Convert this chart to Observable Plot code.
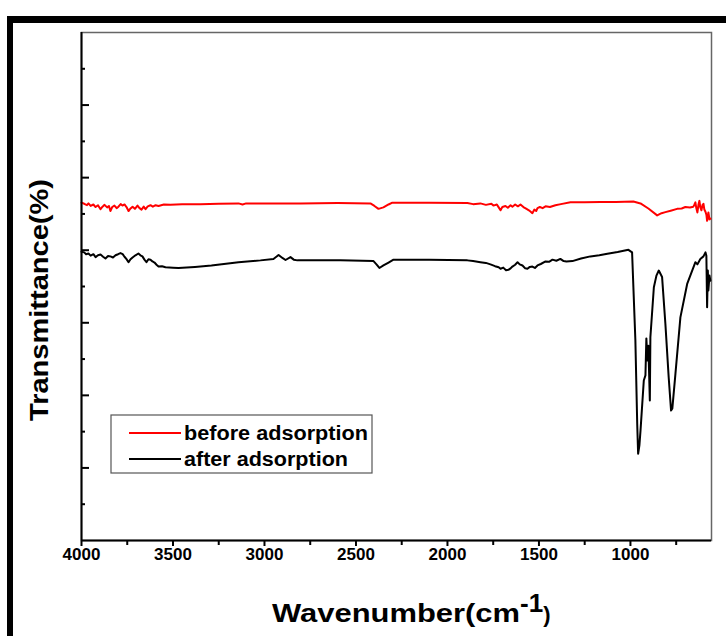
<!DOCTYPE html>
<html><head><meta charset="utf-8">
<script src="https://cdn.jsdelivr.net/npm/d3@7"></script>
<script src="https://cdn.jsdelivr.net/npm/@observablehq/plot@0.6"></script>
<style>
body{margin:0;background:#fff;}
#wrap{position:relative;width:726px;height:636px;overflow:hidden;background:#fff;}
#border{position:absolute;left:7px;top:16px;width:800px;height:800px;border-top:7px solid #000;border-left:6px solid #000;pointer-events:none;}
#wrap svg{position:absolute;left:0;top:0;}
</style></head><body>
<div id="wrap"><div id="border"></div></div>
<script>
const beforeWn = [4000,3985,3970,3962,3950,3935,3923,3910,3896,3885,3874,3860,3850,3842,3832,3820,3808,3798,3786,3776,3765,3754,3743,3732,3721,3708,3694,3683,3672,3660,3650,3638,3623,3610,3595,3579,3550,3514,3450,3350,3250,3142,3120,3100,2900,2803,2600,2421,2399,2377,2350,2322,2301,2100,1891,1860,1820,1790,1760,1749,1730,1720,1710,1700,1683,1670,1655,1645,1630,1615,1601,1585,1568,1555,1545,1536,1525,1515,1508,1495,1480,1464,1440,1410,1380,1328,1250,1164,1080,984,945,902,854,830,809,780,745,720,700,675,656,650,645,640,634,628,623,618,612,606,601,596,590,585,581,577,574,568,563];
const beforeT = [93.1,92.8,92.4,92.9,92.2,92.6,91.9,92.4,91.3,92.0,92.5,91.8,92.2,90.8,91.9,92.3,91.6,92.0,92.7,92.3,92.6,91.9,90.8,91.5,92.0,91.4,92.3,91.6,91.2,92.0,91.3,92.1,92.4,92.0,92.4,92.2,92.6,92.5,92.7,92.7,92.8,92.9,92.6,92.9,92.9,92.9,93.0,92.9,92.2,91.4,91.8,92.6,93.1,93.1,93.0,92.7,92.9,92.5,92.8,92.3,92.6,91.8,91.0,91.9,92.2,91.7,92.4,92.0,92.6,92.1,92.6,91.9,91.4,91.0,90.6,90.2,91.2,90.8,91.6,91.9,91.6,92.1,91.9,92.4,92.7,93.2,93.2,93.3,93.3,93.4,92.9,91.5,89.6,90.2,90.5,90.9,91.4,91.5,91.9,91.8,92.0,92.6,93.2,91.6,90.4,92.6,93.6,91.8,91.0,92.5,92.8,91.2,90.6,89.8,88.1,89.2,90.4,88.5,88.7];
const afterWn = [4000,3985,3975,3962,3950,3935,3923,3910,3896,3882,3869,3855,3842,3828,3814,3800,3787,3775,3765,3755,3743,3732,3721,3705,3689,3678,3667,3656,3645,3634,3623,3612,3601,3590,3579,3560,3541,3500,3470,3380,3290,3142,3022,2951,2923,2900,2885,2858,2840,2820,2700,2585,2404,2388,2372,2350,2322,2295,2100,1891,1860,1820,1790,1765,1740,1720,1710,1695,1680,1667,1655,1645,1630,1617,1605,1590,1575,1563,1550,1536,1522,1508,1490,1464,1445,1426,1405,1383,1365,1350,1317,1270,1219,1170,1126,1070,1011,991,973,963,958,951,945,927,918,913,907,902,894,891,872,858,845,827,809,791,778,771,754,727,690,645,634,618,601,590,585,581,577,574,568,563];
const afterT = [79.6,79.4,78.9,79.1,78.5,78.9,78.1,78.6,78.8,78.2,77.7,78.4,78.3,78.0,78.6,78.9,79.2,78.9,78.2,77.6,76.7,77.5,78.0,78.6,79.1,78.6,78.3,77.4,76.7,77.5,77.4,76.9,76.6,76.0,75.5,75.6,75.3,75.2,75.1,75.4,75.8,76.7,77.2,77.6,78.7,77.8,77.3,78.1,77.4,77.2,77.2,77.2,77.0,76.1,75.1,75.8,76.6,77.4,77.4,77.2,77.0,76.7,76.5,76.1,75.6,75.3,74.9,75.2,74.5,74.6,75.0,75.5,76.0,76.7,76.1,75.8,75.0,74.9,75.4,75.5,75.1,75.8,76.2,76.9,76.8,77.4,77.1,77.6,77.0,76.9,77.0,77.7,78.3,78.6,79.0,79.5,80.1,79.4,55.1,32.2,23.9,26.2,30.3,44.1,45.5,55.7,49.6,53.7,38.6,56.0,69.8,73.0,74.4,72.6,59.7,45.0,35.8,36.4,46.0,61.5,70.7,76.7,76.1,77.6,78.3,79.4,78.5,64.3,74.4,68.9,73.0,71.6];
const xMajorTicks = [4000,3500,3000,2500,2000,1500,1000];
const xMinorTicks = [3750,3250,2750,2250,1750,1250,750];
const yMajorTicks = [20,40,60,80,100,120];
const yMinorTicks = [10,30,50,70,90,110,130];
const seriesNames = ["before adsorption","after adsorption"];
const seriesColors = ["#ff0000","#000000"];
const yTitle = "Transmittance(%)";
const xTitleMain = "Wavenumber(cm";
const xTitleSup = "-1";
const xTitleEnd = ")";

const before = beforeWn.map((w,i)=>({w, t: beforeT[i]}));
const after = afterWn.map((w,i)=>({w, t: afterT[i]}));
const FONT = "'Liberation Sans', Arial, sans-serif";

const plot = Plot.plot({
  width: 726, height: 636,
  marginLeft: 81, marginRight: 15, marginTop: 32, marginBottom: 96,
  style: {background: "transparent", fontFamily: FONT, color: "#000"},
  x: {domain: [4000, 557]},
  y: {domain: [0, 140]},
  marks: [
    Plot.frame({stroke: "#666", strokeWidth: 1.5}),
    Plot.line(before, {x: "w", y: "t", stroke: seriesColors[0], strokeWidth: 2}),
    Plot.line(after, {x: "w", y: "t", stroke: seriesColors[1], strokeWidth: 2}),
    Plot.ruleX([4000], {stroke: "#000", strokeWidth: 2}),
    Plot.ruleY([0], {stroke: "#000", strokeWidth: 2}),
    Plot.axisX({ticks: xMajorTicks, tickSize: 6, tickPadding: 1, tickFormat: d => String(d), fontSize: 17, fontWeight: "bold", label: null, strokeWidth: 2}),
    Plot.axisX({ticks: xMinorTicks, tickSize: 5, tickFormat: () => "", label: null, strokeWidth: 2}),
    Plot.axisY({ticks: yMajorTicks, tickSize: -8, tickFormat: () => "", label: null, strokeWidth: 2}),
    Plot.axisY({ticks: yMinorTicks, tickSize: -4, tickFormat: () => "", label: null, strokeWidth: 2})
  ]
});

const svg = d3.select(plot);
// y title
svg.append("text")
  .attr("transform", "translate(48,300) rotate(-90)")
  .attr("text-anchor", "middle")
  .attr("font-family", FONT).attr("font-weight", "bold").attr("font-size", 26)
  .attr("textLength", 242).attr("lengthAdjust", "spacingAndGlyphs")
  .text(yTitle);
// x title
const xt = svg.append("text")
  .attr("x", 272).attr("y", 622).attr("text-anchor", "start")
  .attr("font-family", FONT).attr("font-weight", "bold").attr("font-size", 25);
xt.append("tspan").attr("textLength", 248).attr("lengthAdjust", "spacingAndGlyphs").text(xTitleMain);
xt.append("tspan").attr("dy", -10).attr("font-size", 26).text(xTitleSup);
xt.append("tspan").attr("dy", 10).attr("font-size", 22).text(xTitleEnd);
// legend
const lg = svg.append("g").attr("text-anchor", "start");
lg.append("rect").attr("x", 111).attr("y", 415).attr("width", 261).attr("height", 58)
  .attr("fill", "#fff").attr("stroke", "#555").attr("stroke-width", 1.2);
seriesNames.forEach((name, i) => {
  const yy = 433 + i * 26;
  lg.append("line").attr("x1", 129).attr("x2", 181).attr("y1", yy).attr("y2", yy)
    .attr("stroke", seriesColors[i]).attr("stroke-width", 2);
  lg.append("text").attr("x", 184).attr("y", yy + 7).attr("text-anchor", "start")
    .attr("font-family", FONT).attr("font-weight", "bold").attr("font-size", 20)
    .attr("textLength", i === 0 ? 184 : 164).attr("lengthAdjust", "spacingAndGlyphs")
    .text(name);
});
document.getElementById("wrap").appendChild(plot);
</script>
</body></html>
